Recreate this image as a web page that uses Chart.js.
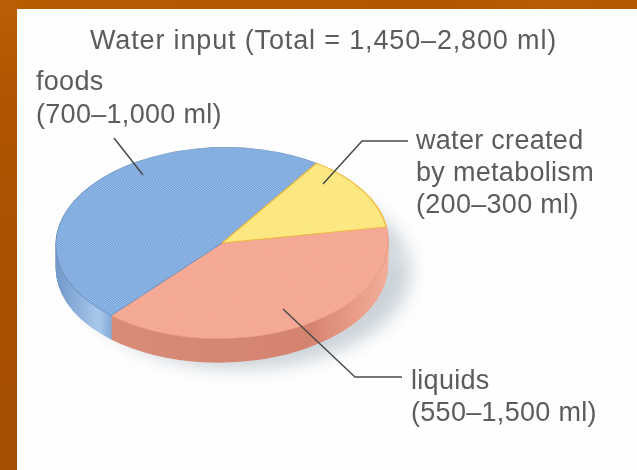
<!DOCTYPE html>
<html>
<head>
<meta charset="utf-8">
<style>
  html, body { margin: 0; padding: 0; background: #fff; overflow: hidden; }
  #wrap { position: relative; width: 637px; height: 470px; background: #fefefe; }
  #top { position: absolute; left: 0; top: 0; width: 637px; height: 9px; background: linear-gradient(90deg, #b85c02, #b35600 70%, #b85d04 85%, #b35700); }
  #side { position: absolute; left: 0; top: 0; width: 17px; height: 470px; background: linear-gradient(180deg, #bc5f06, #b05400 22%, #a85000 60%, #a44e00); }
  #grafico { position: absolute; left: 0; top: 0; }
</style>
</head>
<body>
<div id="wrap">
  <div id="top"></div>
  <div id="side"></div>
  <canvas id="grafico" width="637" height="470"></canvas>
</div>
<script src="https://cdn.jsdelivr.net/npm/chart.js@4"></script>
<script>
// Datos (porcentaje de cada sector)
const categorias = ['liquids', 'foods', 'water created by metabolism'];
const sectores = [39, 48, 13];
const titulo = 'Water input (Total = 1,450\u20132,800 ml)';
const etiquetaFoods = ['foods', '(700\u20131,000 ml)'];
const etiquetaWater = ['water created', 'by metabolism', '(200\u2013300 ml)'];
const etiquetaLiquids = ['liquids', '(550\u20131,500 ml)'];

const ALTO_LATERAL = 24;
const ESCALA_Y = 0.575;
const GIRO = -1 * Math.PI / 180;

const canvas = document.getElementById('grafico');
const ctx0 = canvas.getContext('2d');

// Trama diagonal de los sectores
function trama(base, linea) {
    const c = document.createElement('canvas');
    c.width = 3;
    c.height = 3;
    const g = c.getContext('2d');
    g.fillStyle = base;
    g.fillRect(0, 0, 3, 3);
    g.fillStyle = linea;
    g.fillRect(0, 2, 1, 1);
    g.fillRect(1, 1, 1, 1);
    g.fillRect(2, 0, 1, 1);
    return ctx0.createPattern(c, 'repeat');
}

function transformar(ctx, arc, dy) {
    ctx.translate(arc.x, arc.y + dy);
    ctx.rotate(GIRO);
    ctx.scale(1, ESCALA_Y);
    ctx.translate(-arc.x, -arc.y);
}

function dibujarCopia(ctx, arc, color) {
    const copia = Object.create(arc);
    copia.options = Object.create(arc.options);
    copia.options.backgroundColor = color;
    copia.options.borderWidth = 0;
    copia.draw(ctx);
}

const pie3d = {
    id: 'pie3d',
    beforeDatasetsDraw(chart) {
        const ctx = chart.ctx;
        const arcos = chart.getDatasetMeta(0).data;

        // Sombra
        ctx.save();
        ctx.filter = 'blur(9px)';
        arcos.forEach(a => {
            ctx.save();
            ctx.translate(22, 6);
            transformar(ctx, a, ALTO_LATERAL);
            dibujarCopia(ctx, a, 'rgba(175,187,196,0.65)');
            ctx.restore();
        });
        ctx.restore();

        // Lateral
        const gradLiquids = ctx.createLinearGradient(110, 0, 392, 0);
        gradLiquids.addColorStop(0, '#d88c78');
        gradLiquids.addColorStop(0.7, '#d4836f');
        gradLiquids.addColorStop(0.85, '#e89a84');
        gradLiquids.addColorStop(1, '#f3b09c');
        const gradFoods = ctx.createLinearGradient(55, 0, 112, 0);
        gradFoods.addColorStop(0, '#6f97c8');
        gradFoods.addColorStop(0.75, '#a9c9ec');
        gradFoods.addColorStop(1, '#7ea6d4');
        const laterales = [gradLiquids, gradFoods, '#e8c860'];
        for (let k = ALTO_LATERAL; k >= 1; k--) {
            arcos.forEach((a, i) => {
                ctx.save();
                transformar(ctx, a, k);
                dibujarCopia(ctx, a, laterales[i]);
                ctx.restore();
            });
        }

        ctx.save();
        transformar(ctx, arcos[0], 0);
    },
    afterDatasetsDraw(chart) {
        chart.ctx.restore();
        const ctx = chart.ctx;

        // Lineas guia
        ctx.save();
        ctx.strokeStyle = '#4a4a4a';
        ctx.lineWidth = 1.5;
        ctx.lineJoin = 'round';
        [
            [[114, 138], [143, 175]],
            [[323, 184], [362, 141], [408, 141]],
            [[283, 309], [355, 377], [402, 377]]
        ].forEach(tramo => {
            ctx.beginPath();
            tramo.forEach((p, i) => i ? ctx.lineTo(p[0], p[1]) : ctx.moveTo(p[0], p[1]));
            ctx.stroke();
        });

        // Textos
        ctx.fillStyle = '#5c5c5c';
        ctx.textAlign = 'left';
        ctx.textBaseline = 'alphabetic';
        ctx.font = '27px "Liberation Sans"';
        ctx.letterSpacing = '0.85px';
        ctx.fillText(titulo, 90, 49);
        ctx.letterSpacing = '0.3px';
        etiquetaFoods.forEach((t, i) => ctx.fillText(t, 36, 90 + i * 33));
        etiquetaWater.forEach((t, i) => ctx.fillText(t, 416, 149 + i * 32));
        etiquetaLiquids.forEach((t, i) => ctx.fillText(t, 411, 389 + i * 32));
        ctx.restore();
    }
};

new Chart(canvas, {
    type: 'pie',
    data: {
        labels: categorias,
        datasets: [{
            data: sectores,
            backgroundColor: [trama('#f2a08a', '#f9bcaa'), trama('#76a3da', '#a3c7ee'), trama('#fbe578', '#fdee94')],
            borderColor: ['#e89c80', '#6f93bd', '#f0b83e'],
            borderWidth: [1, 1, 1.5]
        }]
    },
    options: {
        responsive: false,
        animation: false,
        rotation: 82,
        layout: { padding: { left: 55, right: 248, top: 76, bottom: 60 } },
        plugins: {
            legend: { display: false },
            tooltip: { enabled: false }
        }
    },
    plugins: [pie3d]
});
</script>
</body>
</html>
